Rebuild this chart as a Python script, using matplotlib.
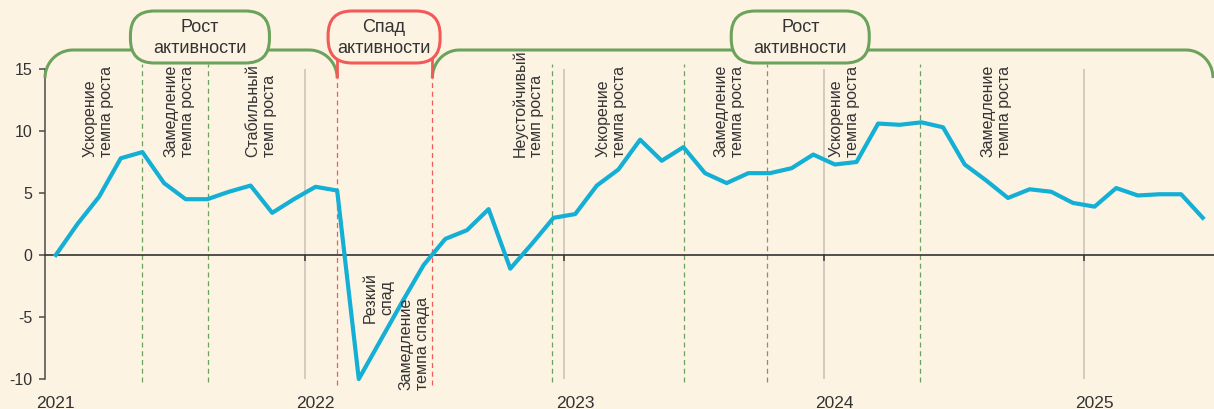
import matplotlib.pyplot as plt
import matplotlib.font_manager as fm
import numpy as np
from matplotlib.patches import FancyBboxPatch

# monthly values, Jan 2021 .. Jun 2025
values = [0.0, 2.5, 4.7, 7.8, 8.3, 5.8, 4.5, 4.5, 5.1, 5.6, 3.4, 4.5,
          5.5, 5.2, -10.0, -6.9, -3.8, -0.8, 1.3, 2.0, 3.7, -1.1, 0.9, 3.0,
          3.3, 5.6, 6.9, 9.3, 7.6, 8.7, 6.6, 5.8, 6.6, 6.6, 7.0, 8.1,
          7.3, 7.5, 10.6, 10.5, 10.7, 10.3, 7.3, 6.0, 4.6, 5.3, 5.1, 4.2,
          3.9, 5.4, 4.8, 4.9, 4.9, 3.0]
years = ['2021', '2022', '2023', '2024', '2025']
yticks = [-10, -5, 0, 5, 10, 15]

# phase boundaries (month index)
green_lines = [4.0, 7.05, 22.95, 29.05, 32.85, 39.95]
red_lines = [13.0, 17.4]

# phase labels: text, x (month index), y (value), vertical anchor
phase_labels = [
    ('Ускорение\nтемпа роста', 1.95, 7.9, 'bottom'),
    ('Замедление\nтемпа роста', 5.69, 7.9, 'bottom'),
    ('Стабильный\nтемп роста', 9.48, 7.9, 'bottom'),
    ('Резкий\nспад', 14.93, -3.4, 'center'),
    ('Замедление\nтемпа спада', 16.55, -10.9, 'bottom'),
    ('Неустойчивый\nтемп роста', 21.82, 7.9, 'bottom'),
    ('Ускорение\nтемпа роста', 25.66, 7.9, 'bottom'),
    ('Замедление\nтемпа роста', 31.11, 7.9, 'bottom'),
    ('Ускорение\nтемпа роста', 36.42, 7.9, 'bottom'),
    ('Замедление\nтемпа роста', 43.45, 7.9, 'bottom'),
]

# top boxes: text, centre (month index), width px, colour
boxes = [
    ('Рост\nактивности', 6.66, 139, 'green'),
    ('Спад\nактивности', 15.17, 112, 'red'),
    ('Рост\nактивности', 34.4, 138, 'green'),
]

bg = '#fdf3e3'
blue = '#13afd5'
green = '#6ca35c'
red = '#f25a57'
grid = '#c9c0b4'
dark = '#333333'

names = {f.name for f in fm.fontManager.ttflist}
narrow = 'Liberation Sans Narrow' if 'Liberation Sans Narrow' in names else 'Liberation Sans'
plt.rcParams['font.family'] = ['Liberation Sans', 'DejaVu Sans']

fig = plt.figure(figsize=(12.14, 4.09), dpi=100, facecolor=bg)
ax = fig.add_axes([45 / 1214, 30 / 409, 1169 / 1214, 310 / 409])
ax.set_facecolor(bg)

x = np.arange(len(values))
ax.set_xlim(-0.5, 53.52)
ax.set_ylim(-10, 15)

# year separators
year_bounds = [11.5 + 12 * k for k in range(4)]
ax.vlines(year_bounds, -10, 15, color=grid, lw=1.1, zorder=1)

for g in green_lines:
    ax.plot([g, g], [-10.25, 15.4], color=green, lw=0.9, ls=(0, (4, 3)),
            clip_on=False, zorder=2)
for r in red_lines:
    ax.plot([r, r], [-10.5, 14.3], color=red, lw=0.9, ls=(0, (4, 3)),
            clip_on=False, zorder=2)

ax.plot(x, values, color=blue, lw=3, zorder=4, clip_on=False)

for s in ['top', 'right']:
    ax.spines[s].set_visible(False)
ax.spines['left'].set_color('#4a4a4a')
ax.spines['left'].set_linewidth(1.1)
ax.spines['bottom'].set_position(('data', 0))
ax.spines['bottom'].set_color('#333333')
ax.spines['bottom'].set_linewidth(1.2)
ax.spines['bottom'].set_zorder(3)

ax.set_yticks(yticks)
ax.set_yticklabels([str(v) for v in yticks])
ax.tick_params(axis='y', direction='out', length=4, width=1.1, color='#4a4a4a',
               labelsize=11.5, labelcolor=dark, pad=5)
ax.set_xticks(year_bounds)
ax.set_xticklabels([''] * len(year_bounds))
ax.tick_params(axis='x', direction='out', length=4, width=1.1, color='#333333')

for k, yr in enumerate(years):
    ax.text(12 * k, -0.055, yr, transform=ax.get_xaxis_transform(),
            ha='center', va='top', fontsize=12.5, color=dark, clip_on=False)

for txt, tx, ty, va in phase_labels:
    ma = 'center' if va == 'center' else 'left'
    ax.text(tx, ty, txt, rotation=90, ha='center', va=va, multialignment=ma,
            fontsize=11.5, family=narrow, color=dark, linespacing=1.12,
            zorder=5, clip_on=False)

# overlay in pixel coordinates for brackets and boxes
ov = fig.add_axes([0, 0, 1, 1], zorder=10)
ov.set_xlim(0, 1214)
ov.set_ylim(409, 0)
ov.axis('off')
ov.patch.set_alpha(0)


def px(i):
    return ax.transData.transform((i, 0))[0]


def bracket(x0, x1, yb=78, yt=50, r=28):
    t = np.linspace(np.pi, np.pi / 2, 20)
    lx = x0 + r + r * np.cos(t)
    ly = yb - (yb - yt) * np.sin(t)
    t2 = np.linspace(np.pi / 2, 0, 20)
    rx = x1 - r + r * np.cos(t2)
    ry = yb - (yb - yt) * np.sin(t2)
    return np.concatenate([lx, rx]), np.concatenate([ly, ry])


bx, by = bracket(px(-0.5), px(red_lines[0]))
ov.plot(bx, by, color=green, lw=2.2, solid_capstyle='butt')
bx, by = bracket(px(red_lines[1]), 1213, r=27)
ov.plot(bx, by, color=green, lw=2.2, solid_capstyle='butt')
for r in red_lines:
    ov.plot([px(r), px(r)], [56, 78], color=red, lw=2.0, solid_capstyle='butt')

for txt, cx, w, col in boxes:
    c = green if col == 'green' else red
    xc = px(cx)
    box = FancyBboxPatch((xc - w / 2, 11), w, 52,
                         boxstyle='round,pad=0,rounding_size=24',
                         fc=bg, ec=c, lw=2.2, zorder=3)
    ov.add_patch(box)
    ov.text(xc, 38, txt, ha='center', va='center', fontsize=13,
            family=narrow, color=dark, linespacing=1.25, zorder=4)

fig.savefig('out.png', dpi=100, facecolor=bg)
